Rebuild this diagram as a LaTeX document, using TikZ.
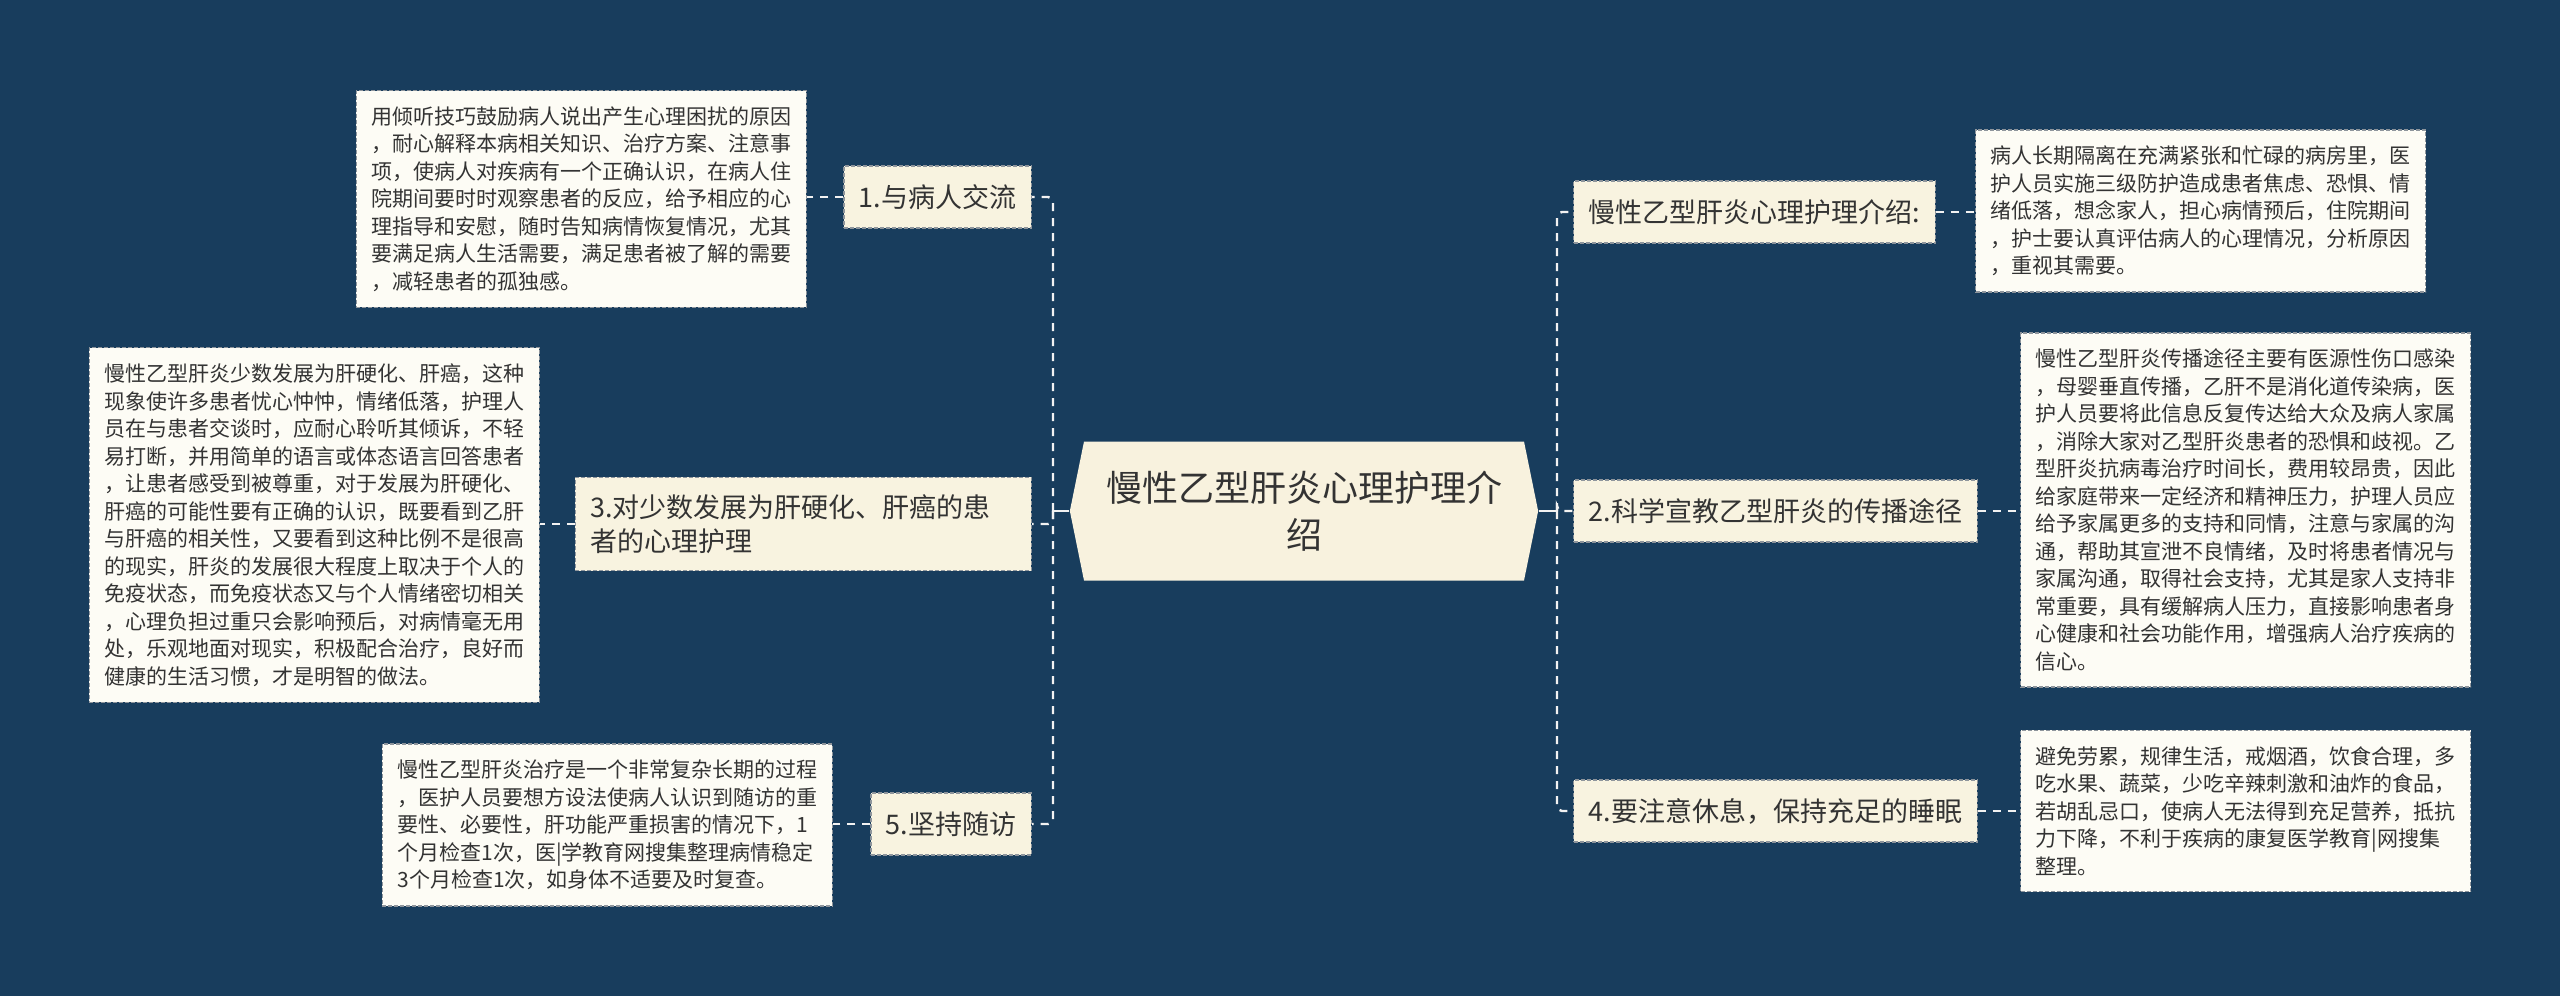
\documentclass[tikz,border=0pt]{standalone}
\usepackage{fontspec}
\setmainfont{Noto Sans CJK SC}
\usetikzlibrary{shapes.symbols}
\definecolor{bgblue}{HTML}{183D5D}
\definecolor{rootfill}{HTML}{F8F2DE}
\definecolor{branchfill}{HTML}{F8F3E0}
\definecolor{leaffill}{HTML}{FDFCF5}
\definecolor{boxline}{HTML}{8E959C}
\definecolor{linkline}{HTML}{F2F2F2}
\definecolor{txt}{HTML}{333333}

\begin{document}
\begin{tikzpicture}[x=0.5pt, y=-0.5pt,
    root/.style={signal, signal to=east and west, signal pointer angle=157,
      fill=rootfill, text=txt, minimum height=69.5pt, text width=200pt,
      inner xsep=10pt, align=center, font=\fontsize{18}{23.5}\selectfont},
    branch/.style={draw=boxline, dash pattern=on 2pt off 1pt, line width=0.6pt,
      fill=branchfill, text=txt, inner xsep=7.5pt, inner ysep=8.5pt,
      minimum height=31pt, align=left, font=\fontsize{13.5}{17}\selectfont},
    leaf/.style={draw=boxline, dash pattern=on 2pt off 1pt, line width=0.6pt,
      fill=leaffill, text=txt, text width=210pt, inner xsep=7.5pt, inner ysep=8pt,
      align=left, font=\fontsize{10.5}{13.75}\selectfont},
    trunk/.style={linkline, line width=1.2pt},
    link/.style={linkline, line width=1.2pt, dash pattern=on 4pt off 3.5pt,
      rounded corners=2.5pt}]
  % Hintergrund und Rahmen des Bildes
  \fill[bgblue] (0,0) rectangle (2560,996);

  % Mittelknoten
  \node[root] (root) at (1304,511) {慢性乙型肝炎心理护理介\\绍};

  % linke Zweige
  \node[branch, anchor=east] (b1) at (1032,197) {1.与病人交流};
  \node[branch, anchor=east, text width=213pt] (b3) at (1032,524)
    {3.对少数发展为肝硬化、肝癌的患\\者的心理护理};
  \node[branch, anchor=east] (b5) at (1032,824) {5.坚持随访};

  % rechte Zweige
  \node[branch, anchor=west] (a0) at (1573,212) {慢性乙型肝炎心理护理介绍:};
  \node[branch, anchor=west] (a2) at (1573,511) {2.科学宣教乙型肝炎的传播途径};
  \node[branch, anchor=west] (a4) at (1573,811) {4.要注意休息，保持充足的睡眠};

  % Texte links
  \node[leaf, anchor=east] (l1) at (807,199) {用倾听技巧鼓励病人说出产生心理困扰的原因\\
    ，耐心解释本病相关知识、治疗方案、注意事\\
    项，使病人对疾病有一个正确认识，在病人住\\
    院期间要时时观察患者的反应，给予相应的心\\
    理指导和安慰，随时告知病情恢复情况，尤其\\
    要满足病人生活需要，满足患者被了解的需要\\
    ，减轻患者的孤独感。};
  \node[leaf, anchor=east] (l3) at (540,525) {慢性乙型肝炎少数发展为肝硬化、肝癌，这种\\
    现象使许多患者忧心忡忡，情绪低落，护理人\\
    员在与患者交谈时，应耐心聆听其倾诉，不轻\\
    易打断，并用简单的语言或体态语言回答患者\\
    ，让患者感受到被尊重，对于发展为肝硬化、\\
    肝癌的可能性要有正确的认识，既要看到乙肝\\
    与肝癌的相关性，又要看到这种比例不是很高\\
    的现实，肝炎的发展很大程度上取决于个人的\\
    免疫状态，而免疫状态又与个人情绪密切相关\\
    ，心理负担过重只会影响预后，对病情毫无用\\
    处，乐观地面对现实，积极配合治疗，良好而\\
    健康的生活习惯，才是明智的做法。};
  \node[leaf, anchor=east] (l5) at (833,825) {慢性乙型肝炎治疗是一个非常复杂长期的过程\\
    ，医护人员要想方设法使病人认识到随访的重\\
    要性、必要性，肝功能严重损害的情况下，1\\
    个月检查1次，医|学教育网搜集整理病情稳定\\
    3个月检查1次，如身体不适要及时复查。};

  % Texte rechts
  \node[leaf, anchor=west] (r0) at (1975,211) {病人长期隔离在充满紧张和忙碌的病房里，医\\
    护人员实施三级防护造成患者焦虑、恐惧、情\\
    绪低落，想念家人，担心病情预后，住院期间\\
    ，护士要认真评估病人的心理情况，分析原因\\
    ，重视其需要。};
  \node[leaf, anchor=west] (r2) at (2020,510) {慢性乙型肝炎传播途径主要有医源性伤口感染\\
    ，母婴垂直传播，乙肝不是消化道传染病，医\\
    护人员要将此信息反复传达给大众及病人家属\\
    ，消除大家对乙型肝炎患者的恐惧和歧视。乙\\
    型肝炎抗病毒治疗时间长，费用较昂贵，因此\\
    给家庭带来一定经济和精神压力，护理人员应\\
    给予家属更多的支持和同情，注意与家属的沟\\
    通，帮助其宣泄不良情绪，及时将患者情况与\\
    家属沟通，取得社会支持，尤其是家人支持非\\
    常重要，具有缓解病人压力，直接影响患者身\\
    心健康和社会功能作用，增强病人治疗疾病的\\
    信心。};
  \node[leaf, anchor=west] (r4) at (2020,811) {避免劳累，规律生活，戒烟酒，饮食合理，多\\
    吃水果、蔬菜，少吃辛辣刺激和油炸的食品，\\
    若胡乱忌口，使病人无法得到充足营养，抵抗\\
    力下降，不利于疾病的康复医学教育|网搜集\\
    整理。};

  % Verbindungen vom Mittelknoten
  \coordinate (lbus) at (1053,511);
  \coordinate (rbus) at (1557,511);
  \draw[trunk] (root.west) -- (lbus);
  \draw[trunk] (root.east) -- (rbus);
  \foreach \b in {b1,b3,b5}
    \draw[link] (lbus) |- (\b.east);
  \foreach \a in {a0,a2,a4}
    \draw[link] (rbus) |- (\a.west);

  % Verbindungen zu den Texten
  \draw[link] (b1.west) -- (b1.west -| l1.east);
  \draw[link] (b3.west) -- (b3.west -| l3.east);
  \draw[link] (b5.west) -- (b5.west -| l5.east);
  \draw[link] (a0.east) -- (a0.east -| r0.west);
  \draw[link] (a2.east) -- (a2.east -| r2.west);
  \draw[link] (a4.east) -- (a4.east -| r4.west);
\end{tikzpicture}
\end{document}
